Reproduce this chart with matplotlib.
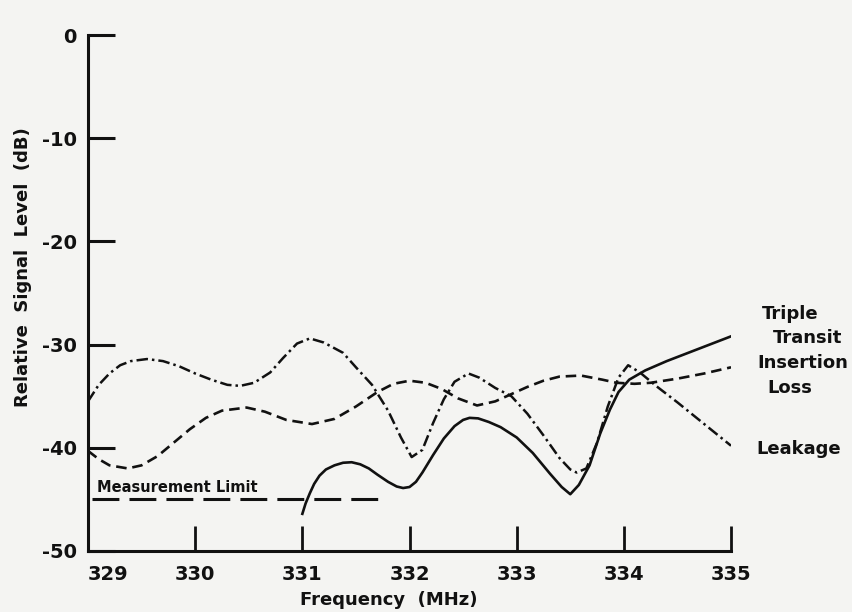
import matplotlib.pyplot as plt

# Values (frequency in MHz, level in dB)
leak_freq = [329.0, 329.1, 329.2, 329.3, 329.4, 329.55, 329.7, 329.85, 330.0, 330.15,
             330.3, 330.42, 330.55, 330.7, 330.82, 330.95, 331.07, 331.2, 331.38, 331.5,
             331.65, 331.8, 331.92, 332.02, 332.12, 332.22, 332.32, 332.42, 332.55, 332.65,
             332.8, 332.95, 333.1, 333.25, 333.4, 333.5, 333.56, 333.65, 333.75, 333.85,
             333.95, 334.04, 334.15, 334.3, 334.5, 334.75, 335.0]
leak_db = [-35.5, -33.9, -32.8, -32.0, -31.6, -31.4, -31.6, -32.1, -32.8, -33.4,
           -33.9, -34.0, -33.7, -32.7, -31.3, -29.9, -29.4, -29.8, -30.8, -32.2,
           -33.9, -36.4, -39.0, -40.9, -40.2, -37.6, -35.3, -33.6, -32.8, -33.2,
           -34.2, -35.0, -36.7, -38.8, -41.0, -42.1, -42.4, -42.0, -39.5, -36.0,
           -33.2, -32.0, -32.7, -34.0, -35.6, -37.7, -39.8]

loss_freq = [329.0, 329.1, 329.2, 329.37, 329.5, 329.65, 329.8, 329.95, 330.1, 330.25,
             330.48, 330.65, 330.85, 331.09, 331.3, 331.5, 331.7, 331.85, 332.0, 332.15,
             332.3, 332.45, 332.63, 332.8, 332.95, 333.1, 333.25, 333.4, 333.6, 333.8,
             333.93, 334.1, 334.25, 334.5, 334.75, 335.0]
loss_db = [-40.3, -41.1, -41.7, -42.0, -41.7, -40.8, -39.5, -38.2, -37.1, -36.4,
           -36.1, -36.5, -37.3, -37.7, -37.2, -36.0, -34.6, -33.8, -33.5, -33.7,
           -34.3, -35.2, -35.9, -35.5, -34.8, -34.1, -33.5, -33.1, -33.0, -33.4,
           -33.7, -33.8, -33.7, -33.3, -32.8, -32.2]

triple_freq = [331.0, 331.03, 331.07, 331.11, 331.16, 331.22, 331.3, 331.38, 331.46, 331.54,
               331.62, 331.7, 331.8, 331.88, 331.94, 332.0, 332.06, 332.12, 332.22, 332.32,
               332.42, 332.5, 332.56, 332.64, 332.74, 332.85, 333.0, 333.15, 333.31, 333.42,
               333.5, 333.58, 333.68, 333.78, 333.87, 333.95, 334.05, 334.2, 334.4, 334.6,
               334.8, 335.0]
triple_db = [-46.4, -45.4, -44.4, -43.5, -42.7, -42.1, -41.7, -41.45, -41.4, -41.6,
             -42.0, -42.6, -43.3, -43.75, -43.9, -43.8, -43.3, -42.4, -40.7, -39.1,
             -37.9, -37.3, -37.1, -37.15, -37.5, -38.0, -39.0, -40.5, -42.5, -43.8,
             -44.5, -43.6, -41.7, -38.6, -36.3, -34.6, -33.4, -32.5, -31.6, -30.8,
             -30.0, -29.2]

limit_freq = [329.04, 331.75]
limit_db = [-45.0, -45.0]

x_ticks = [329, 330, 331, 332, 333, 334, 335]
y_ticks = [0, -10, -20, -30, -40, -50]

ink = "#111111"
paper = "#f4f4f2"

fig = plt.figure(figsize=(8.53, 6.12), dpi=100, facecolor=paper)
ax = fig.add_axes([0.1032, 0.0997, 0.7538, 0.8431], facecolor=paper)

# curves
ax.plot(leak_freq, leak_db, color=ink, lw=1.8, dashes=(4.6, 1.6, 1.0, 1.6),
        solid_joinstyle="round")
ax.plot(loss_freq, loss_db, color=ink, lw=1.9, dashes=(4.0, 2.2))
ax.plot(triple_freq, triple_db, color=ink, lw=1.9, solid_joinstyle="round")
ax.plot(limit_freq, limit_db, color=ink, lw=2.2, dashes=(8.8, 3.3))

ax.text(329.08, -44.55, "Measurement Limit", fontsize=10.5, fontweight="bold",
        color=ink, ha="left", va="bottom")

# curve names on the right
labels = [("Triple", 335.29, -27.5), ("Transit", 335.39, -29.8),
          ("Insertion", 335.25, -32.3), ("Loss", 335.34, -34.7),
          ("Leakage", 335.24, -40.6)]
for txt, lx, ly in labels:
    ax.text(lx, ly, txt, fontsize=13, fontweight="bold", color=ink,
            ha="left", va="baseline", clip_on=False)

ax.set_xlim(329, 335)
ax.set_ylim(-50, 0)
ax.spines["top"].set_visible(False)
ax.spines["right"].set_visible(False)
for side in ["left", "bottom"]:
    ax.spines[side].set_linewidth(2.2)
    ax.spines[side].set_color(ink)

ax.set_xticks(x_ticks)
ax.set_xticklabels([str(t) for t in x_ticks], fontsize=14, fontweight="bold", color=ink)
ax.set_yticks(y_ticks)
ax.set_yticklabels([str(t) for t in y_ticks], fontsize=14, fontweight="bold", color=ink)
ax.tick_params(axis="x", direction="in", length=18, width=2.0, color=ink, pad=10)
ax.tick_params(axis="y", direction="in", length=19.5, width=2.2, color=ink, pad=8)
ax.get_xticklabels()[0].set_ha("left")

fig.text(389 / 853, 1 - 600 / 612, "Frequency  (MHz)", fontsize=13, fontweight="bold",
         color=ink, ha="center", va="center")
fig.text(23 / 853, 1 - 267 / 612, "Relative  Signal  Level  (dB)", fontsize=13,
         fontweight="bold", color=ink, ha="center", va="center", rotation=90)

fig.savefig("out.png", dpi=100, facecolor=paper)
